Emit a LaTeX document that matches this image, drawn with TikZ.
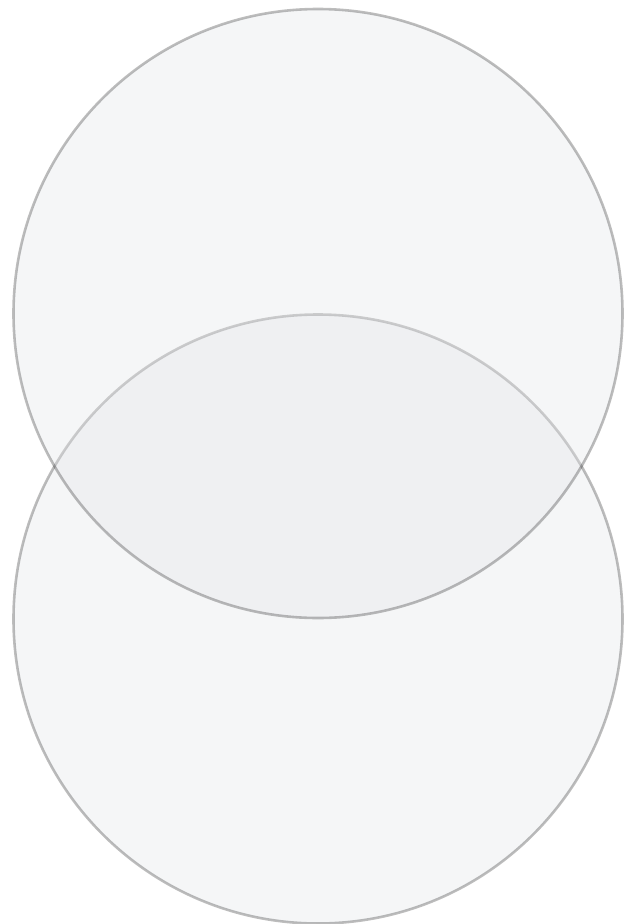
\documentclass[tikz,border=0pt]{standalone}
\definecolor{circfill}{RGB}{229,230,233}
\begin{document}
\begin{tikzpicture}[x=1pt,y=-1pt,
  venn/.style={fill=circfill,fill opacity=0.35,draw=black,draw opacity=0.26,line width=2.6pt}]
\fill[white] (0,0) rectangle (628,924);
\useasboundingbox (0,0) rectangle (628,924);
\path[venn] (318,619) circle[radius=304.5];
\path[venn] (318,313.5) circle[radius=304.5];
\node[inner sep=0pt] (bottom) at (318,619) {};
\node[inner sep=0pt] (top) at (318,313.5) {};
\end{tikzpicture}
\end{document}
